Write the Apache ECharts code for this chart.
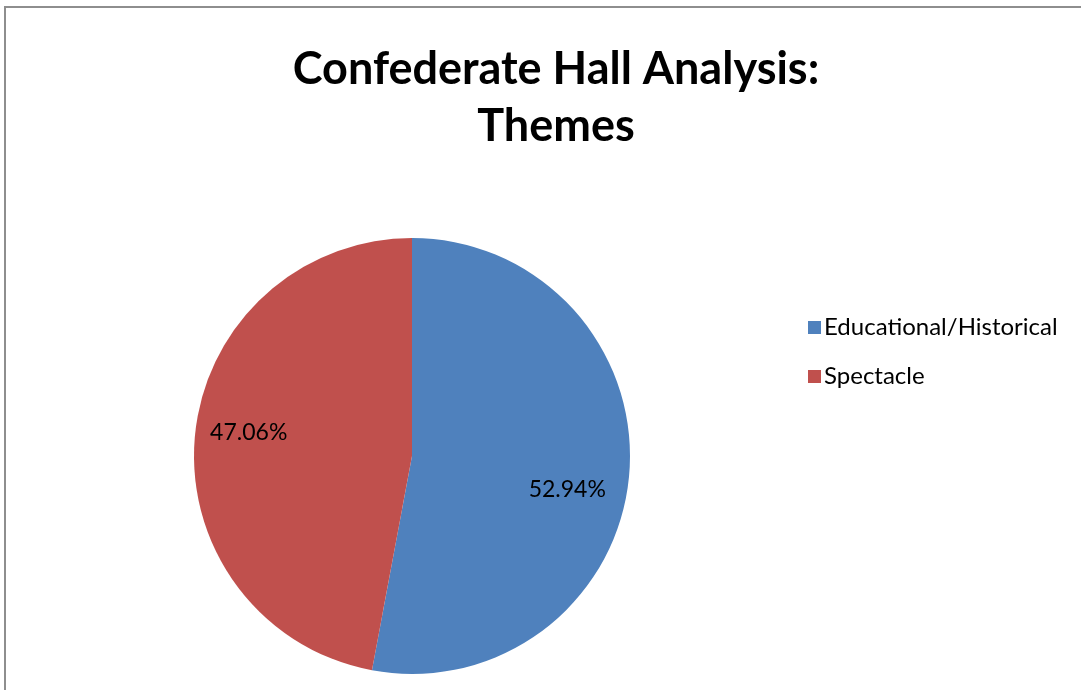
<!DOCTYPE html>
<html>
<head>
<meta charset="utf-8">
<title>Confederate Hall Analysis: Themes</title>
<script src="https://cdn.jsdelivr.net/npm/echarts@6/dist/echarts.min.js"></script>
<style>
  html, body { margin: 0; padding: 0; background: #fff; }
  #chart { width: 1081px; height: 690px; }
</style>
</head>
<body>
<div id="chart"></div>
<script>
// Theme categories and their shares (percent)
const categories = ['Educational/Historical', 'Spectacle'];
const shares = [52.94, 47.06];
const colors = ['#4F81BD', '#C0504D'];

const titleLines = ['Confederate Hall Analysis:', 'Themes'];

const CX = 412, CY = 456, R = 218;
const FONT = 'Lato, "Open Sans", sans-serif';
// small nudges for the slice labels (best-fit placement)
const LABEL_NUDGE = [[-12, 18], [4, -8]];

const chart = echarts.init(document.getElementById('chart'), null, { renderer: 'canvas' });

chart.setOption({
  backgroundColor: '#ffffff',
  animation: false,
  title: {
    text: titleLines.join('\n'),
    left: 551,
    top: 36,
    textAlign: 'center',
    textStyle: {
      fontFamily: FONT,
      fontWeight: 'bold',
      fontSize: 45,
      lineHeight: 57,
      color: '#000'
    }
  },
  legend: {
    orient: 'vertical',
    left: 803,
    top: 310,
    itemWidth: 13,
    itemHeight: 13,
    itemGap: 24,
    icon: 'rect',
    textStyle: { fontFamily: FONT, fontSize: 24, lineHeight: 25, color: '#000', padding: [0, 0, 0, -2] },
    data: categories
  },
  graphic: [{
    type: 'rect',
    shape: { x: 5, y: 7, width: 1200, height: 800 },
    style: { fill: 'none', stroke: '#8e8e8e', lineWidth: 2 },
    silent: true,
    z: 100
  }],
  series: [{
    type: 'pie',
    center: [CX, CY],
    radius: [0, R],
    startAngle: 90,
    clockwise: true,
    silent: true,
    data: categories.map((name, i) => ({
      name: name,
      value: shares[i],
      itemStyle: { color: colors[i] }
    })),
    label: {
      show: true,
      position: 'inside',
      formatter: (p) => p.value.toFixed(2) + '%',
      fontFamily: FONT,
      fontSize: 23,
      color: '#000'
    },
    // push the inside labels outward to ~3/4 of the radius
    labelLayout: function (params) {
      const r = params.labelRect;
      const lx = r.x + r.width / 2;
      const ly = r.y + r.height / 2;
      const k = 1.5;
      const n = LABEL_NUDGE[params.dataIndex] || [0, 0];
      return {
        x: CX + (lx - CX) * k + n[0],
        y: CY + (ly - CY) * k + n[1],
        align: 'center',
        verticalAlign: 'middle'
      };
    },
    labelLine: { show: false }
  }]
});
</script>
</body>
</html>
